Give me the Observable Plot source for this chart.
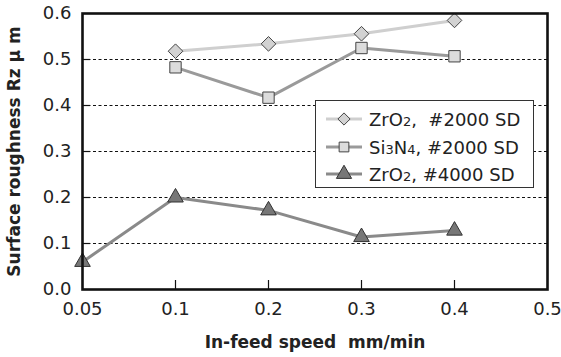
<!DOCTYPE html>
<html><head><meta charset="utf-8">
<script src="https://cdn.jsdelivr.net/npm/d3@7"></script>
<script src="https://cdn.jsdelivr.net/npm/@observablehq/plot@0.6"></script>
<style>
body{margin:0;background:#fff}
#wrap{position:relative;width:561px;height:357px;font-family:"DejaVu Sans",sans-serif}
#legend{position:absolute;left:315px;top:100px;width:217px;height:86px;border:1px solid #333;background:#fff;box-sizing:content-box}
#legend .row{position:absolute;left:0;height:26px;display:flex;align-items:center}
#legend svg{width:40px;height:26px;margin-left:8px}
#legend span{font-size:18px;color:#222;margin-left:5px;white-space:pre}
#legend sub{font-size:13px;vertical-align:0}
</style>
</head><body><div id="wrap"></div>
<script>
const speeds = ["0.05", "0.1", "0.2", "0.3", "0.4", "0.5"];
const yTicks = [0, 0.1, 0.2, 0.3, 0.4, 0.5, 0.6];
const gridValues = [0.1, 0.2, 0.3, 0.4, 0.5];

const zro2_2000_x = ["0.1", "0.2", "0.3", "0.4"];
const zro2_2000_y = [0.518, 0.534, 0.556, 0.585];
const si3n4_2000_x = ["0.1", "0.2", "0.3", "0.4"];
const si3n4_2000_y = [0.483, 0.417, 0.525, 0.507];
const zro2_4000_x = ["0.05", "0.1", "0.2", "0.3", "0.4"];
const zro2_4000_y = [0.06, 0.2, 0.172, 0.114, 0.128];

const legendLabels = [
  ["ZrO", "2", ",  #2000 SD"],
  ["Si", "3", "N", "4", ", #2000 SD"],
  ["ZrO", "2", ", #4000 SD"]
];

const s1 = zro2_2000_x.map((x, i) => ({x, y: zro2_2000_y[i]}));
const s2 = si3n4_2000_x.map((x, i) => ({x, y: si3n4_2000_y[i]}));
const s3 = zro2_4000_x.map((x, i) => ({x, y: zro2_4000_y[i]}));

const W = 561, H = 357, ML = 82, MR = 14, MT = 13, MB = 68;
const plotW = W - ML - MR, plotH = H - MT - MB;

const chart = Plot.plot({
  width: W, height: H,
  marginLeft: ML, marginRight: MR, marginTop: MT, marginBottom: MB,
  style: {fontFamily: "DejaVu Sans, sans-serif", fontSize: "18px", color: "#222", background: "#fff"},
  x: {type: "point", domain: speeds, padding: 0},
  y: {domain: [0, 0.6]},
  marks: [
    Plot.ruleY(gridValues, {stroke: "#111", strokeWidth: 1, strokeDasharray: "3,2.5"}),
    Plot.ruleY(gridValues, {stroke: "#111", strokeWidth: 1.2, insetRight: plotW - 8}),
    Plot.ruleX(speeds.slice(1, -1), {stroke: "#111", strokeWidth: 1.2, insetTop: plotH - 9}),
    Plot.axisX({ticks: speeds, tickSize: 0, tickPadding: 13, label: null, fontSize: 18}),
    Plot.axisY({ticks: yTicks, tickSize: 0, tickPadding: 11, tickFormat: d3.format(".1f"), label: null, fontSize: 18}),
    Plot.line(s1, {x: "x", y: "y", stroke: "#cfcfcf", strokeWidth: 3}),
    Plot.line(s2, {x: "x", y: "y", stroke: "#9a9a9a", strokeWidth: 3}),
    Plot.line(s3, {x: "x", y: "y", stroke: "#8a8a8a", strokeWidth: 3}),
    Plot.dot(s1, {x: "x", y: "y", symbol: "diamond2", r: 6.6, fill: "#d2d2d2", stroke: "#444", strokeWidth: 1}),
    Plot.dot(s2, {x: "x", y: "y", symbol: "square", r: 6.4, fill: "#dcdcdc", stroke: "#444", strokeWidth: 1}),
    Plot.dot(s3, {x: "x", y: "y", symbol: "triangle", r: 5.8, fill: "#777", stroke: "#333", strokeWidth: 1}),
    Plot.frame({stroke: "#111", strokeWidth: 2.6}),
    Plot.text(["Surface roughness Rz \u03bc m"], {frameAnchor: "left", textAnchor: "middle", dx: -68, rotate: -90, fontWeight: "bold", fontSize: 17, fill: "#222"}),
    Plot.text(["In-feed speed  mm/min"], {frameAnchor: "bottom", dy: 58, fontWeight: "bold", fontSize: 17, fill: "#222"})
  ]
});
const wrap = document.getElementById("wrap");
wrap.appendChild(chart);

// Legend
const legend = document.createElement("div");
legend.id = "legend";
const swatches = [
  {stroke: "#cfcfcf", sym: d3.symbolDiamond2, size: 95, fill: "#d2d2d2", ms: "#444"},
  {stroke: "#9a9a9a", sym: d3.symbolSquare, size: 95, fill: "#dcdcdc", ms: "#444"},
  {stroke: "#8a8a8a", sym: d3.symbolTriangle, size: 100, fill: "#777", ms: "#333"}
];
const rowTops = [5, 33, 60];
legendLabels.forEach((parts, i) => {
  const row = document.createElement("div");
  row.className = "row";
  row.style.top = rowTops[i] + "px";
  const sw = swatches[i];
  const path = d3.symbol(sw.sym, sw.size)();
  row.innerHTML = `<svg viewBox="0 0 40 26"><line x1="2" x2="38" y1="13" y2="13" stroke="${sw.stroke}" stroke-width="3"/><path transform="translate(20,13)" d="${path}" fill="${sw.fill}" stroke="${sw.ms}" stroke-width="1"/></svg>`;
  const span = document.createElement("span");
  span.innerHTML = parts.map((p, j) => j % 2 === 1 ? `<sub>${p}</sub>` : p).join("");
  row.appendChild(span);
  legend.appendChild(row);
});
wrap.appendChild(legend);
</script>
</body></html>
